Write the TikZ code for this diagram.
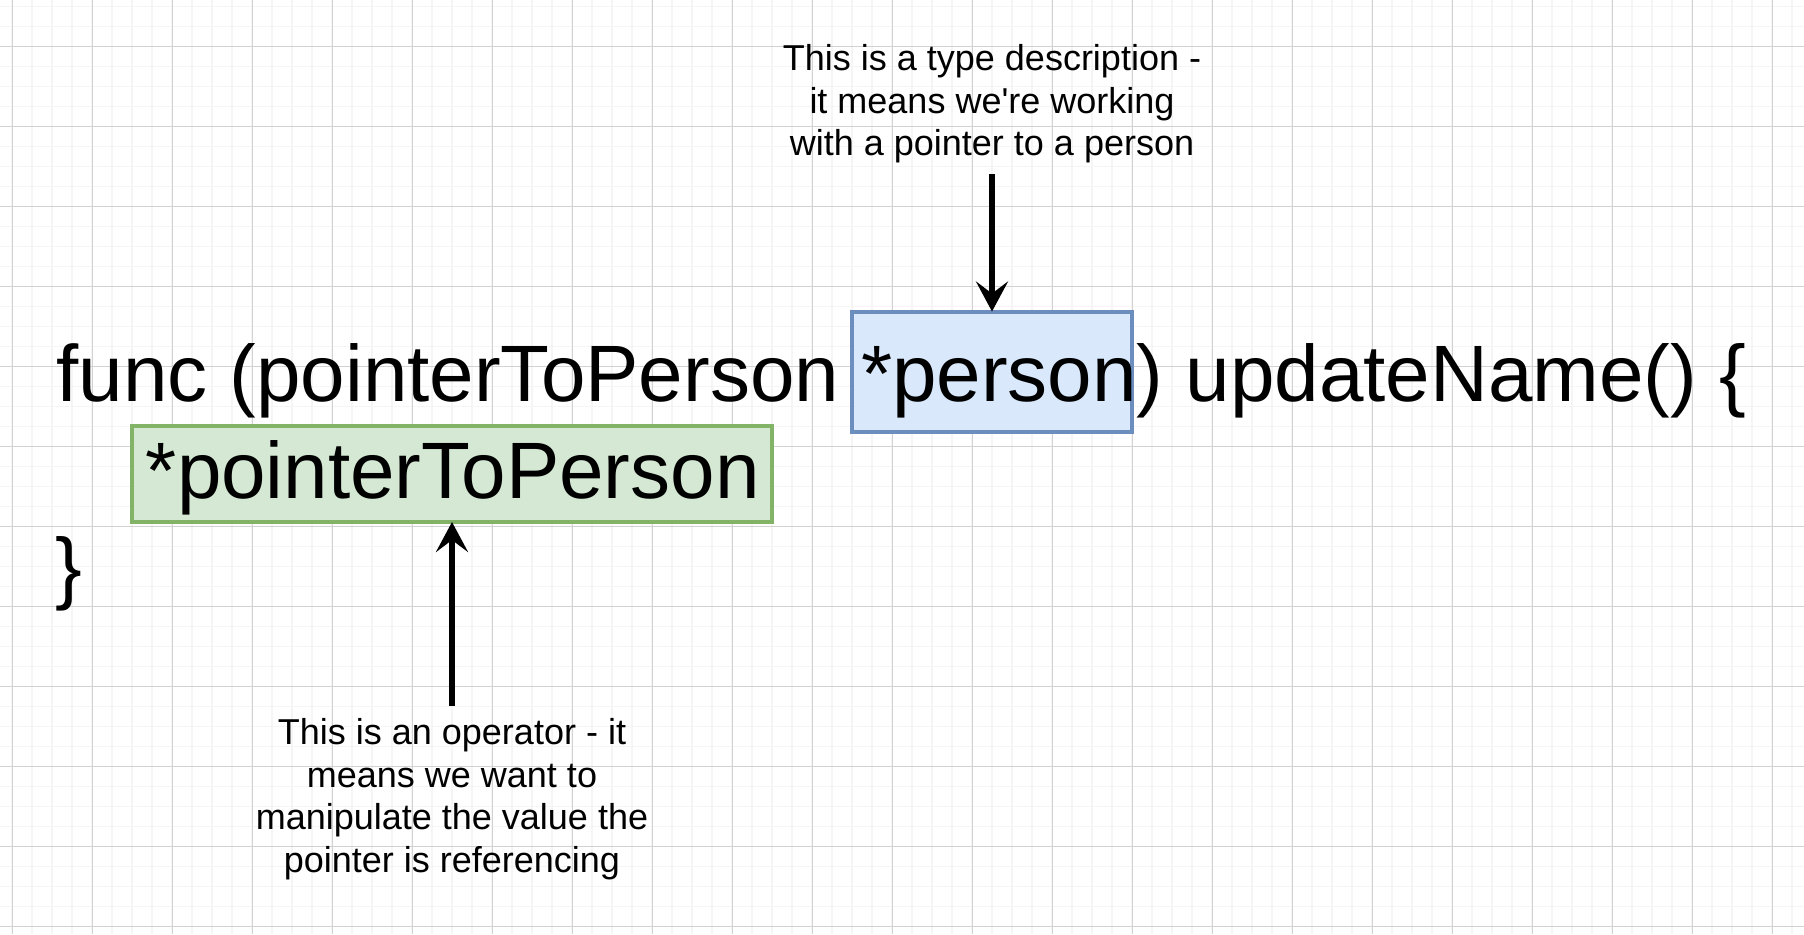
\documentclass[tikz,border=0pt]{standalone}
\usepackage{fontspec}
\newfontfamily\helv{Liberation Sans}
\usetikzlibrary{arrows.meta}
\definecolor{gridminor}{HTML}{F5F5F5}
\definecolor{gridmajor}{HTML}{D2D2D2}
\definecolor{bluefill}{HTML}{DAE8FC}
\definecolor{bluestroke}{HTML}{6C8EBF}
\definecolor{greenfill}{HTML}{D5E8D4}
\definecolor{greenstroke}{HTML}{82B366}
\tikzset{
  codetext/.style={anchor=base west, inner sep=0pt, font=\helv\fontsize{40}{48}\selectfont},
  hlbox/.style={rectangle, line width=2pt, inner sep=0pt, outer sep=0pt, anchor=north west},
  bluebox/.style={hlbox, draw=bluestroke, fill=bluefill, minimum width=140pt, minimum height=60pt},
  greenbox/.style={hlbox, draw=greenstroke, fill=greenfill, minimum width=320pt, minimum height=48pt},
  annot/.style={anchor=base, align=center, font=\helv\fontsize{18}{21.25}\selectfont},
  arr/.style={line width=3pt, -{Stealth[length=15pt,width=16pt,inset=6pt]}}
}
\begin{document}
\begin{tikzpicture}[x=0.5pt,y=-0.5pt]
\useasboundingbox (0,0) rectangle (1804,934);
\fill[white] (0,0) rectangle (1804,934);
% grid
\foreach \x in {12,32,...,1792} \draw[gridminor, line width=0.8pt] (\x,0) -- (\x,934);
\foreach \y in {6.3,26.3,...,926.3} \draw[gridminor, line width=0.8pt] (0,\y) -- (1804,\y);
\foreach \x in {12,92,...,1772} \draw[gridmajor, line width=0.5pt] (\x,0) -- (\x,934);
\foreach \y in {46.3,126.3,...,926.3} \draw[gridmajor, line width=0.5pt] (0,\y) -- (1804,\y);
% highlight boxes
\node[bluebox] (ptype) at (852,311.5) {};
\node[greenbox] (op) at (132,426) {};
% code
\node[codetext] (line1) at (56,401.7) {func (pointerToPerson *person) updateName() \{};
\node[codetext] (line2) at (145.5,498.2) {*pointerToPerson};
\node[codetext] (line3) at (55,594.7) {\}};
% annotations (base anchor = last line's baseline)
\node[annot, inner sep=5.5pt] (typedesc) at (992,155.5) {This is a type description -\\it means we're working\\with a pointer to a person};
\node[annot, inner sep=6pt] (opdesc) at (452,872) {This is an operator - it\\means we want to\\manipulate the value the\\pointer is referencing};
% arrows
\draw[arr] (typedesc.south -| ptype.north) -- (ptype.north);
\draw[arr] (opdesc.north -| op.south) -- (op.south);
\end{tikzpicture}
\end{document}
